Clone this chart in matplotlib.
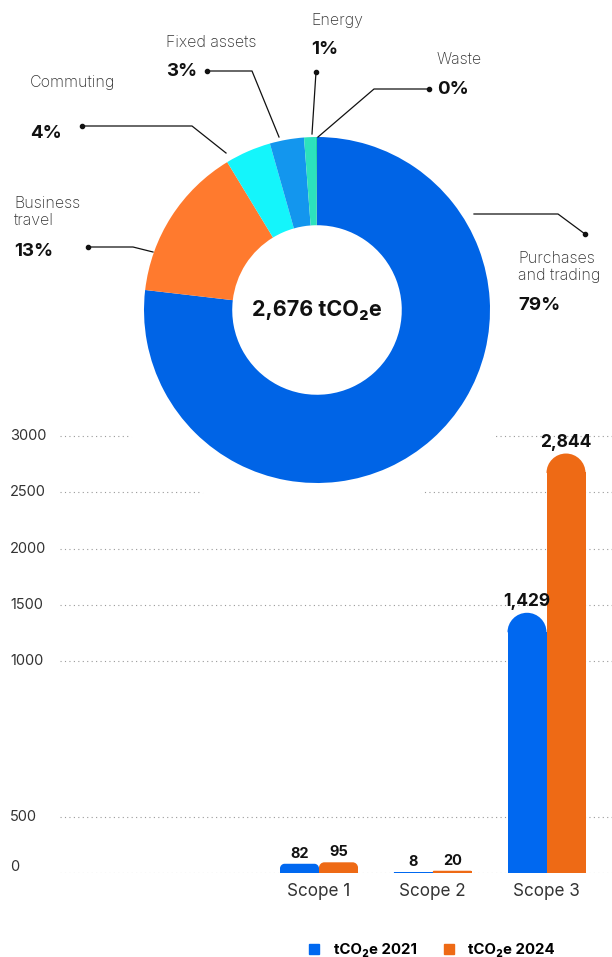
import numpy as np
import matplotlib
matplotlib.use('Agg')
import matplotlib.pyplot as plt
from matplotlib.patches import Circle, PathPatch
from matplotlib.path import Path
from matplotlib.lines import Line2D

plt.rcParams['font.family'] = ['Inter', 'DejaVu Sans']

# donut data (shares as drawn)
donut_names = ['Purchases\nand trading', 'Business\ntravel', 'Commuting', 'Fixed assets', 'Energy', 'Waste']
donut_shares = [77.0, 14.5, 4.3, 3.2, 1.1, 0.1]
donut_labels = ['79%', '13%', '4%', '3%', '1%', '0%']
donut_colors = ['#0064e6', '#ff7a2e', '#14f5fb', '#1396ee', '#2ce2bd', '#20d0a0']
total_label = '2,676 tCO₂e'

# bar data
scopes = ['Scope 1', 'Scope 2', 'Scope 3']
t2021 = [82, 8, 1429]
t2024 = [95, 20, 2844]
y_ticks = [0, 500, 1000, 1500, 2000, 2500, 3000]
bar_colors = ['#0068f0', '#ee6a15']
series_names = ['tCO₂e 2021', 'tCO₂e 2024']

W, H = 612, 957
fig = plt.figure(figsize=(W / 100, H / 100), dpi=100)


def fx(x):
    return x / W


def fy(y):
    return 1 - y / H


# ---- bar chart with a stretched gap between 500 and 1000
GAP = 883
fwd_in = [-1e4, 500, 1000, 1e5]
fwd_out = [-1e4, 500, 1000 + GAP, 1e5 + GAP]


def forward(v):
    return np.interp(v, fwd_in, fwd_out)


def inverse(v):
    return np.interp(v, fwd_out, fwd_in)


ymax = 3060
ax_h = (ymax + GAP) * 0.11255
ax = fig.add_axes([fx(55), fy(873), fx(557), ax_h / H])
ax.set_yscale('function', functions=(forward, inverse))
step = 113.75
ax.set_xlim(-264 / step, 293 / step)
ax.set_ylim(0, ymax)
for s in ax.spines.values():
    s.set_visible(False)
ax.set_yticks([])

ax.hlines(y_ticks, -259 / step, 3, colors='#9a9a9a', linestyles=(0, (1, 3)), lw=0.8, zorder=1)
for t in y_ticks:
    off = 6 if t == 0 else 0
    ax.annotate(str(t), xy=(-45 / 557, t), xycoords=ax.get_yaxis_transform(),
                xytext=(0, off), textcoords='offset pixels',
                ha='left', va='center', fontsize=10.5, color='#333333')

x = np.arange(len(scopes))
bw = 39 / step
px_y = 1 / 0.11255  # data units per pixel (linear parts)
K = 0.5523


def cap_path(x0, x1, top, rx, ry):
    # rounded top of a bar, from top - ry up to top
    b = top - ry
    verts = [(x0, b), (x0, b + K * ry), (x0 + rx - K * rx, top), (x0 + rx, top),
             (x1 - rx, top), (x1 - rx + K * rx, top), (x1, b + K * ry), (x1, b), (x0, b)]
    codes = [Path.MOVETO, Path.CURVE4, Path.CURVE4, Path.CURVE4,
             Path.LINETO, Path.CURVE4, Path.CURVE4, Path.CURVE4, Path.CLOSEPOLY]
    return Path(verts, codes)


for vals, col, sgn in [(t2021, bar_colors[0], -1), (t2024, bar_colors[1], 1)]:
    xs = x + sgn * bw / 2
    for xi, v in zip(xs, vals):
        h_px = v / px_y
        r_px = min(19.5, h_px / 2)
        ry = r_px * px_y
        ax.bar(xi, min(v, v - ry + 0.6 * px_y), bw, color=col, zorder=2, linewidth=0)
        ax.add_patch(PathPatch(cap_path(xi - bw / 2, xi + bw / 2, v, r_px / step, ry),
                               fc=col, ec='none', zorder=2))
        ax.annotate(f'{v:,}', xy=(xi, v), xytext=(0, 3), textcoords='offset pixels',
                    ha='center', va='bottom', fontweight='bold',
                    fontsize=12.5 if v > 1000 else 10.5, color='#111111', zorder=3)

ax.set_xticks(x)
ax.set_xticklabels(scopes, fontsize=12.3, color='#333333')
ax.tick_params(axis='x', length=0, pad=7)

handles = [Line2D([], [], marker='s', ls='none', ms=6.5, color=c) for c in bar_colors]
fig.legend(handles, series_names, loc='center', bbox_to_anchor=(fx(427), fy(950)),
           ncol=2, frameon=False, handletextpad=0.3, columnspacing=1.15,
           prop={'weight': 'bold', 'size': 10.8})

# ---- donut
cx, cy, R = 317, 310, 173
axp = fig.add_axes([fx(cx - R), fy(cy + R), fx(2 * R), 2 * R / H])
axp.add_patch(Circle((-5 / R, 30 / R), 239 / R, color='white', zorder=0, clip_on=False))
axp.pie(donut_shares, colors=donut_colors, startangle=90, counterclock=False,
        radius=1, wedgeprops=dict(width=0.51, edgecolor='none'))
axp.set_xlim(-1, 1)
axp.set_ylim(-1, 1)
axp.set_axis_off()
axp.text(0, 0, total_label, ha='center', va='center', fontsize=15.5, fontweight='bold', color='#111111')

# leader lines (pixel positions)
leaders = [
    [(474, 214), (558, 214), (585, 234)],
    [(153, 252), (133, 247), (88, 247)],
    [(226, 153), (192, 126), (82, 126)],
    [(279, 137), (252, 71), (207, 71)],
    [(312, 134), (316, 72)],
    [(318, 137), (374, 89), (429, 89)],
]
for pts in leaders:
    xs_, ys_ = zip(*pts)
    fig.add_artist(Line2D([fx(p) for p in xs_], [fy(p) for p in ys_], color='#111111', lw=0.9))
    fig.add_artist(Line2D([fx(xs_[-1])], [fy(ys_[-1])], marker='o', ms=3, color='#111111'))

# label text positions (left x, name centre y, percent centre y)
label_pos = [(518, 267, 306), (14, 212, 252), (30, 83, 133), (166, 42, 72), (311, 20, 49), (437, 59, 89)]
for name, pct, (lx, ny, py) in zip(donut_names, donut_labels, label_pos):
    fig.text(fx(lx), fy(ny), name, ha='left', va='center', fontsize=11.5, color='#333333',
             fontweight='light', linespacing=1.2)
    fig.text(fx(lx), fy(py), pct, ha='left', va='center', fontsize=13.5, color='#111111',
             fontweight='bold')

fig.savefig('out.png', dpi=100)
